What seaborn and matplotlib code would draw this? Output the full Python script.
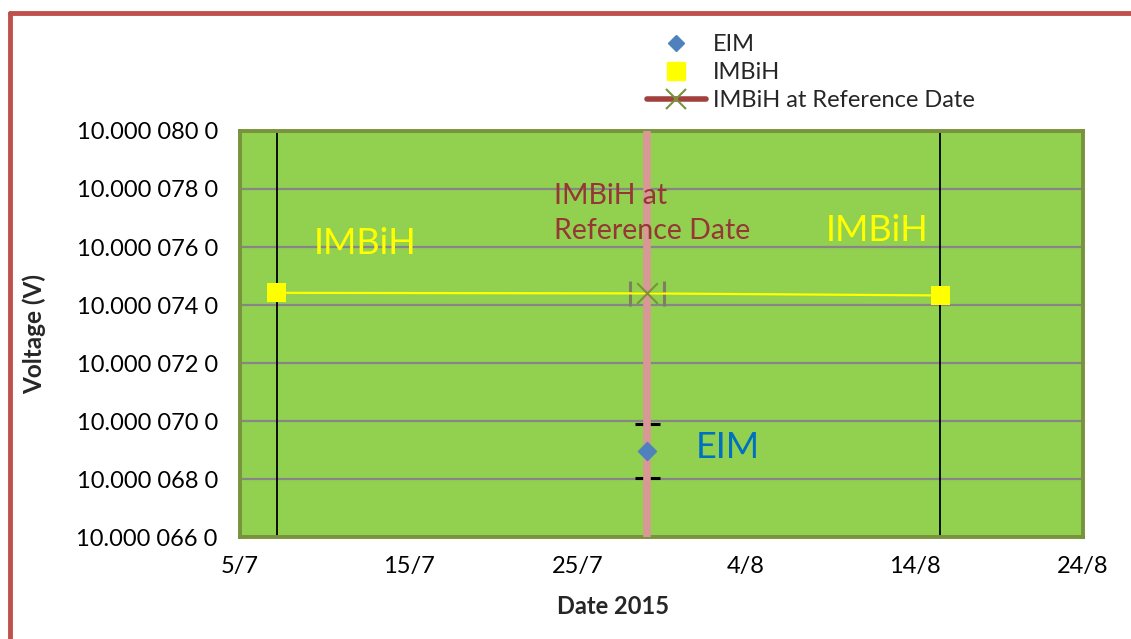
import matplotlib
matplotlib.use('Agg')
import matplotlib.pyplot as plt
import matplotlib.dates as mdates
from matplotlib.lines import Line2D
import pandas as pd
import seaborn as sns

# data
imbih_dates = ['2015-07-07 04:00', '2015-08-15 13:00']
imbih_values = [10.00007442, 10.00007433]
ref_date = '2015-07-29 03:00'
ref_value = 10.0000744
ref_date_unc = 1.0          # days
eim_date = '2015-07-29 03:00'
eim_value = 10.00006897
eim_unc = 0.00000093

x_tick_dates = ['2015-07-05', '2015-07-15', '2015-07-25', '2015-08-04', '2015-08-14', '2015-08-24']
x_tick_labels = ['5/7', '15/7', '25/7', '4/8', '14/8', '24/8']
y_ticks = [10.0000660, 10.0000680, 10.0000700, 10.0000720, 10.0000740, 10.0000760, 10.0000780, 10.0000800]
y_tick_labels = ['10.000 066 0', '10.000 068 0', '10.000 070 0', '10.000 072 0',
                 '10.000 074 0', '10.000 076 0', '10.000 078 0', '10.000 080 0']

sns.set_style('white')
plt.rcParams['font.family'] = ['Lato', 'DejaVu Sans']

to_num = lambda d: mdates.date2num(pd.Timestamp(d))

imbih = pd.DataFrame({'date': [to_num(d) for d in imbih_dates], 'value': imbih_values})
line_df = pd.DataFrame({
    'date': [to_num(imbih_dates[0]), to_num(ref_date), to_num(imbih_dates[1])],
    'value': [imbih_values[0], ref_value, imbih_values[1]],
})

fig = plt.figure(figsize=(11.31, 6.39), dpi=100)
ax = fig.add_axes([0.2122, 0.1596, 0.7454, 0.6354])
ax.set_facecolor('#92D050')

# vertical date lines
for d in imbih_dates:
    ax.axvline(to_num(d), color='black', lw=1.3, zorder=2)
ax.axvline(to_num(ref_date), color='#D99795', lw=5.5, zorder=4)

# error bars
eb = ax.errorbar(to_num(eim_date), eim_value, yerr=eim_unc, fmt='none', ecolor='black',
                 elinewidth=1.2, capsize=9, capthick=2.2, zorder=3)
eb2 = ax.errorbar(to_num(ref_date), ref_value, xerr=ref_date_unc, fmt='none', ecolor='#7F7F5F',
                  elinewidth=1.2, capsize=9, capthick=2.2, zorder=5)
for c in eb2[1]:
    c.set_color('black')

sns.lineplot(data=line_df, x='date', y='value', color='#FFFF00', lw=1.6, ax=ax, zorder=6)
sns.scatterplot(data=imbih, x='date', y='value', marker='s', s=190, color='#FFFF00',
                edgecolor='none', ax=ax, zorder=7)
ax.scatter([to_num(eim_date)], [eim_value], marker='D', s=85, color='#4F81BD', zorder=7)
ax.scatter([to_num(ref_date)], [ref_value], marker='x', s=220, color='#77933C', lw=1.5, zorder=7)

ax.set_xlim(to_num(x_tick_dates[0]), to_num(x_tick_dates[-1]))
ax.set_ylim(y_ticks[0], y_ticks[-1])
ax.set_xticks([to_num(d) for d in x_tick_dates], labels=x_tick_labels)
ax.set_yticks(y_ticks, labels=y_tick_labels)
ax.tick_params(axis='both', labelsize=17, colors='#868686', labelcolor='black',
               length=6, width=1.5, direction='out', pad=8)
ax.tick_params(axis='y', pad=10)
ax.grid(axis='y', color='#868686', lw=1.6, zorder=1)
ax.set_axisbelow(True)
for s in ax.spines.values():
    s.set_color('#77933C')
    s.set_linewidth(2.8)

ax.set_xlabel('Date 2015', fontsize=17, fontweight='bold')
ax.xaxis.set_label_coords(0.442, -0.142)
ax.set_ylabel('Voltage (V)', fontsize=17.5, fontweight='bold')
ax.yaxis.set_label_coords(-0.23, 0.5)

# in-plot labels
ax.text(0.148, 0.722, 'IMBiH', transform=ax.transAxes, color='#FFFF00', fontsize=26,
        ha='center', va='center', zorder=8)
ax.text(0.756, 0.756, 'IMBiH', transform=ax.transAxes, color='#FFFF00', fontsize=26,
        ha='center', va='center', zorder=8)
ax.text(0.373, 0.797, 'IMBiH at\nReference Date', transform=ax.transAxes, color='#953735',
        fontsize=20.5, ha='left', va='center', linespacing=1.45, zorder=8)
ax.text(0.541, 0.221, 'EIM', transform=ax.transAxes, color='#0070C0', fontsize=26,
        ha='left', va='center', zorder=8)

# legend
handles = [
    Line2D([], [], ls='none', marker='D', color='#4F81BD', markersize=8),
    Line2D([], [], ls='none', marker='s', color='#FFFF00', markersize=13),
    Line2D([], [], color='#A0413E', lw=4, marker='x', markeredgecolor='#77933C',
           markersize=14, markeredgewidth=1.5),
]
fig.legend(handles, ['EIM', 'IMBiH', 'IMBiH at Reference Date'], loc='upper left',
           bbox_to_anchor=(0.553, 0.98), frameon=False, fontsize=17, handlelength=2.5,
           labelspacing=0.3, handletextpad=0.3)

# red outer frame (top and left only)
fig.add_artist(Line2D([0.0085, 1.0], [0.979, 0.979], color='#C0504D', lw=3.5,
                      transform=fig.transFigure))
fig.add_artist(Line2D([0.0085, 0.0085], [0.0, 0.979], color='#C0504D', lw=3.5,
                      transform=fig.transFigure))

fig.savefig('out.png', dpi=100)
